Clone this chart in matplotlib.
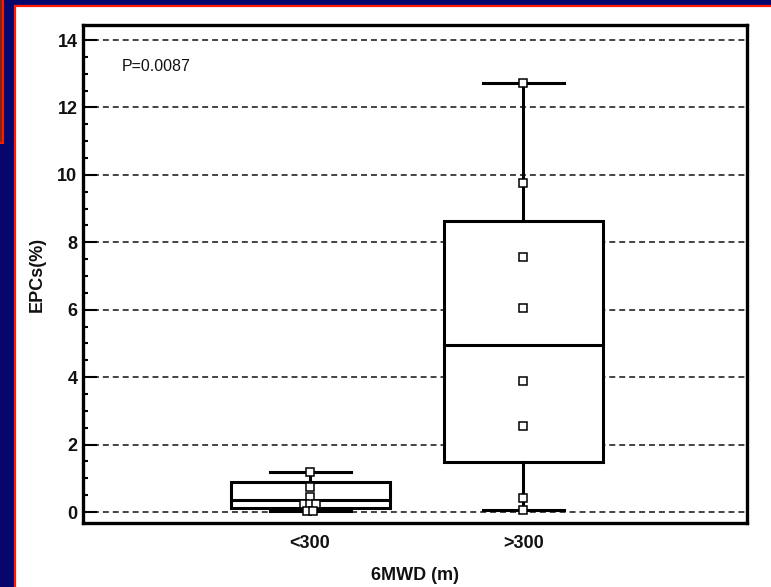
import matplotlib
matplotlib.use("Agg")
import matplotlib.pyplot as plt
from matplotlib.patches import Rectangle
from matplotlib.ticker import MultipleLocator

# Groups and their box statistics (EPCs, %)
groups = ["<300", ">300"]
whisker_low = [0.03, 0.06]
quartile_1 = [0.12, 1.48]
medians = [0.35, 4.95]
quartile_3 = [0.89, 8.62]
whisker_high = [1.19, 12.72]

# Individual observations per group
points_lt300 = [1.19, 0.74, 0.45, 0.24, 0.24, 0.24, 0.02, 0.02]
points_gt300 = [12.72, 9.75, 7.55, 6.05, 3.90, 2.55, 0.42, 0.06]

y_ticks = [0, 2, 4, 6, 8, 10, 12, 14]
p_text = "P=0.0087"
x_title = "6MWD (m)"
y_title = "EPCs(%)"

NAVY = "#06066c"
FONT = "Liberation Sans"

fig = plt.figure(figsize=(7.71, 5.87), dpi=100)
fig.patch.set_facecolor(NAVY)

# slide decorations: red-edged box at the top left and the white panel
fig.patches.append(Rectangle((-0.02, 1 - 143 / 587), 0.02 + 3 / 771, 0.3,
                             transform=fig.transFigure, facecolor="#7a2a12",
                             edgecolor="#ff1a00", lw=1.5, zorder=-10))
fig.patches.append(Rectangle((15 / 771, -0.05), 1.0, 0.05 + 1 - 6 / 587,
                             transform=fig.transFigure, facecolor="white",
                             edgecolor="#ff1a00", lw=1.6, zorder=-9))

ax = fig.add_axes([83 / 771, 1 - 523 / 587, 664 / 771, 498 / 587])
ax.set_zorder(5)
ax.set_facecolor("white")

positions = [1, 2]
stats = []
for i, name in enumerate(groups):
    stats.append(dict(label=name, whislo=whisker_low[i], q1=quartile_1[i],
                      med=medians[i], q3=quartile_3[i], whishi=whisker_high[i]))

lw = 2.2
ax.bxp(stats, positions=positions, widths=0.746, capwidths=0.38,
       showfliers=False, patch_artist=True,
       boxprops=dict(facecolor="white", edgecolor="black", linewidth=lw),
       medianprops=dict(color="black", linewidth=lw),
       whiskerprops=dict(color="black", linewidth=lw),
       capprops=dict(color="black", linewidth=lw),
       zorder=3)


def spread(values, center, step=0.03):
    """Place equal values side by side around the group centre."""
    xs, ys = [], []
    counts = {}
    for v in values:
        counts[v] = counts.get(v, 0) + 1
    for v, n in counts.items():
        for k in range(n):
            xs.append(center + (k - (n - 1) / 2) * step)
            ys.append(v)
    return xs, ys


for pos, pts in zip(positions, [points_lt300, points_gt300]):
    xs, ys = spread(pts, pos)
    ax.plot(xs, ys, "s", ms=5.5, mfc="white", mec="black", mew=1.1,
            zorder=6, clip_on=False)

ax.set_xlim(-0.065, 3.05)
ax.set_ylim(-0.326, 14.445)

ax.set_yticks(y_ticks)
ax.set_yticklabels([str(t) for t in y_ticks])
ax.yaxis.set_minor_locator(MultipleLocator(0.5))
ax.set_xticks(positions)
ax.set_xticklabels(groups)

for lab in ax.get_yticklabels() + ax.get_xticklabels():
    lab.set_fontfamily(FONT)
    lab.set_fontweight("bold")
    lab.set_fontsize(13)
    lab.set_color("#111111")

ax.tick_params(axis="y", which="major", direction="in", length=10,
               width=1.5, pad=4, color="black")
ax.tick_params(axis="y", which="minor", direction="in", length=3.8,
               width=1.5, color="black")
ax.tick_params(axis="x", which="both", length=0, pad=9)

ax.yaxis.grid(True, which="major", color="#111111", lw=1.1,
              linestyle=(0, (3.9, 2.6)), zorder=1)
ax.set_axisbelow(True)

for sp in ax.spines.values():
    sp.set_linewidth(2.4)
    sp.set_color("black")
    sp.set_zorder(7)

ax.set_xlabel(x_title, fontfamily=FONT, fontweight="bold", fontsize=13,
              va="center", color="#111111")
ax.xaxis.set_label_coords(0.5, -0.106)
ax.set_ylabel(y_title, fontfamily=FONT, fontweight="bold", fontsize=13,
              va="center", color="#111111")
ax.yaxis.set_label_coords(-0.069, 0.5)

ax.text(0.059, 0.916, p_text, transform=ax.transAxes, fontfamily=FONT,
        fontsize=11.5, ha="left", va="center", color="#111111")

fig.savefig("out.png", dpi=100, facecolor=fig.get_facecolor())
